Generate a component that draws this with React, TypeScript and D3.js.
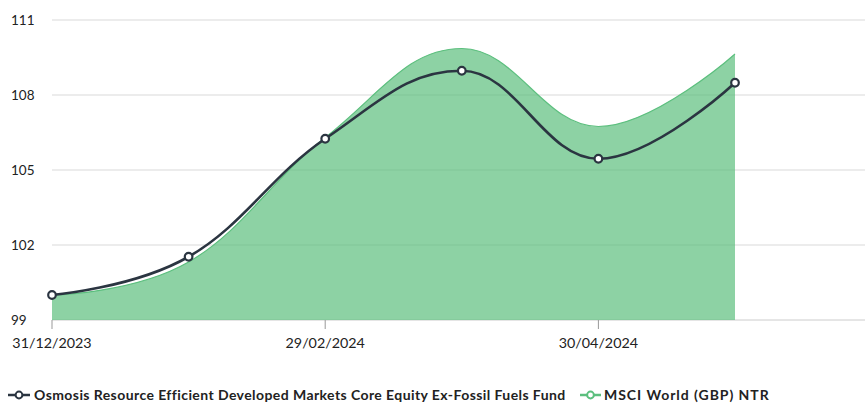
import React from "react";
import * as d3 from "d3";

const dates = ["31/12/2023", "31/01/2024", "29/02/2024", "31/03/2024", "30/04/2024", "31/05/2024"];
const fundValues = [100.0, 101.53, 106.25, 108.97, 105.45, 108.49];
const msciValues = [100.0, 101.32, 106.3, 109.86, 106.74, 109.64];
const yTicks = [99, 102, 105, 108, 111];
const xTickIndexes = [0, 2, 4];
const seriesNames = [
  "Osmosis Resource Efficient Developed Markets Core Equity Ex-Fossil Fuels Fund",
  "MSCI World (GBP) NTR",
];

const W = 865;
const H = 403;
const FUND_COLOR = "#2b3541";
const MSCI_COLOR = "#5cbf7e";

// Highcharts-like spline curve as a d3 curve factory
class HcSpline {
  _context: any;
  _line: number = NaN;
  _pts: [number, number][] = [];
  constructor(context: any) {
    this._context = context;
  }
  areaStart() {
    this._line = 0;
  }
  areaEnd() {
    this._line = NaN;
  }
  lineStart() {
    this._pts = [];
  }
  point(x: number, y: number) {
    this._pts.push([+x, +y]);
  }
  lineEnd() {
    const p = this._pts;
    const ctx = this._context;
    const n = p.length;
    if (n) {
      if (this._line) ctx.lineTo(p[0][0], p[0][1]);
      else ctx.moveTo(p[0][0], p[0][1]);
      const smoothing = 1.5;
      const denom = smoothing + 1;
      const rc: ([number, number] | null)[] = new Array(n).fill(null);
      for (let i = 1; i < n; i++) {
        const [px, py] = p[i];
        const [lx, ly] = p[i - 1];
        let leftX = px, leftY = py;
        if (i < n - 1) {
          const [nx, ny] = p[i + 1];
          leftX = (smoothing * px + lx) / denom;
          leftY = (smoothing * py + ly) / denom;
          const rightX = (smoothing * px + nx) / denom;
          let rightY = (smoothing * py + ny) / denom;
          let correction = 0;
          if (rightX !== leftX) {
            correction = ((rightY - leftY) * (rightX - px)) / (rightX - leftX) + py - rightY;
          }
          leftY += correction;
          rightY += correction;
          if (leftY > ly && leftY > py) {
            leftY = Math.max(ly, py);
            rightY = 2 * py - leftY;
          } else if (leftY < ly && leftY < py) {
            leftY = Math.min(ly, py);
            rightY = 2 * py - leftY;
          }
          if (rightY > ny && rightY > py) {
            rightY = Math.max(ny, py);
            leftY = 2 * py - rightY;
          } else if (rightY < ny && rightY < py) {
            rightY = Math.min(ny, py);
            leftY = 2 * py - rightY;
          }
          rc[i] = [rightX, rightY];
        }
        const prevC = rc[i - 1] || p[i - 1];
        ctx.bezierCurveTo(prevC[0], prevC[1], leftX, leftY, px, py);
      }
    }
    if (this._line || (this._line !== 0 && n === 1)) ctx.closePath();
    this._line = 1 - this._line;
  }
}
const hcSpline = (context: any) => new HcSpline(context);

export default function App() {
  const plotLeft = 52;
  const plotRight = W;
  const x = d3.scaleLinear().domain([0, dates.length - 1]).range([plotLeft, 735]);
  const y = d3.scaleLinear().domain([99, 111]).range([320, 20]);

  const idx = dates.map((_, i) => i);
  const line = d3
    .line<number>()
    .x((i) => x(i))
    .y((i) => y(fundValues[i]))
    .curve(hcSpline as any);
  const area = d3
    .area<number>()
    .x((i) => x(i))
    .y0(y(99))
    .y1((i) => y(msciValues[i]))
    .curve(hcSpline as any);
  const msciLine = d3
    .line<number>()
    .x((i) => x(i))
    .y((i) => y(msciValues[i]))
    .curve(hcSpline as any);

  const font = "Lato, 'Open Sans', sans-serif";
  const legendY = 395;

  return (
    <div style={{ position: "absolute", left: 0, top: 0 }}>
      <svg width={W} height={H} style={{ display: "block" }} fontFamily={font}>
        <rect width={W} height={H} fill="#fff" />
        {yTicks.map((t) => (
          <g key={t}>
            <line
              x1={plotLeft}
              x2={plotRight}
              y1={y(t)}
              y2={y(t)}
              stroke={t === 99 ? "#cccccc" : "#d9d9d9"}
              strokeWidth={1}
            />
            <text x={11} y={y(t)} dy="0.38em" fontSize={13.5} fill="#222">
              {t}
            </text>
          </g>
        ))}
        <path d={area(idx) || ""} fill={MSCI_COLOR} fillOpacity={0.7} />
        <path d={msciLine(idx) || ""} fill="none" stroke={MSCI_COLOR} strokeWidth={1.2} />
        {xTickIndexes.map((i) => (
          <g key={i}>
            <line x1={x(i)} x2={x(i)} y1={y(99)} y2={y(99) + 9} stroke="#999" strokeWidth={1} />
            <text x={x(i)} y={348} textAnchor="middle" fontSize={14.3} fill="#222">
              {dates[i]}
            </text>
          </g>
        ))}
        <path d={line(idx) || ""} fill="none" stroke={FUND_COLOR} strokeWidth={2.6} />
        {idx.map((i) => (
          <circle
            key={i}
            cx={x(i)}
            cy={y(fundValues[i])}
            r={3.8}
            fill="#fff"
            stroke={FUND_COLOR}
            strokeWidth={2.2}
          />
        ))}
        {/* legend */}
        <g>
          <line x1={8} x2={30} y1={legendY} y2={legendY} stroke={FUND_COLOR} strokeWidth={2.5} />
          <circle cx={19} cy={legendY} r={3.4} fill="#fff" stroke={FUND_COLOR} strokeWidth={2} />
          <text x={34} y={legendY} dy="0.35em" fontSize={14} fontWeight={700} letterSpacing={0.42} fill="#222">
            {seriesNames[0]}
          </text>
          <line x1={580} x2={601} y1={legendY} y2={legendY} stroke={MSCI_COLOR} strokeWidth={2.5} />
          <circle cx={590.5} cy={legendY} r={3.4} fill="#fff" stroke={MSCI_COLOR} strokeWidth={2} />
          <text x={604} y={legendY} dy="0.35em" fontSize={14} fontWeight={700} letterSpacing={0.95} fill="#222">
            {seriesNames[1]}
          </text>
        </g>
      </svg>
    </div>
  );
}
